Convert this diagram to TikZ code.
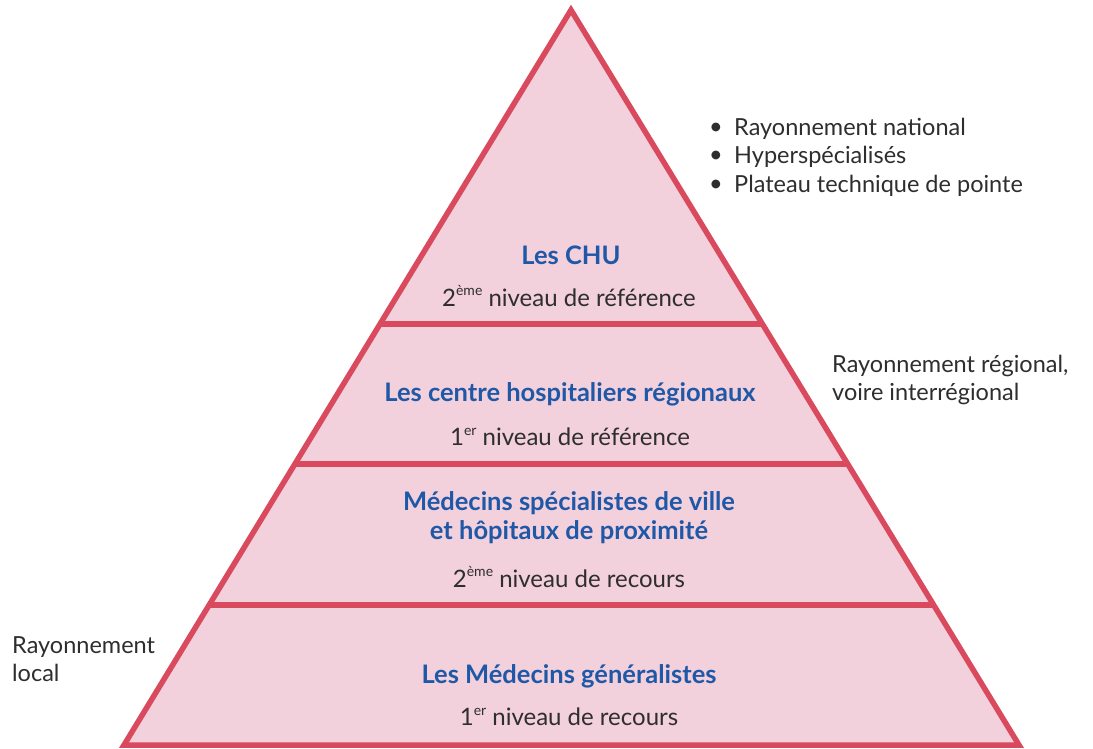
\documentclass[tikz,border=0pt]{standalone}
\usepackage{fontspec}
\setmainfont{Lato}
\usetikzlibrary{calc}
\definecolor{edge}{HTML}{D94A5E}
\definecolor{fillp}{HTML}{F2D0DC}
\definecolor{blueT}{HTML}{1F58A6}
\definecolor{greyT}{HTML}{2E2E2E}
\newcommand{\supx}[1]{\raisebox{0.42em}{\fontsize{14}{14}\selectfont #1}}
\tikzset{
  title/.style={font=\fontsize{25.5}{29}\selectfont\bfseries, text=blueT, align=center, inner sep=0pt},
  sub/.style={font=\fontsize{24}{28}\selectfont, text=greyT, inner sep=0pt},
  side/.style={font=\fontsize{23.5}{28.5}\selectfont, text=greyT, align=left, inner sep=0pt, anchor=west},
  bul/.style={font=\fontsize{23.5}{28.5}\selectfont, text=greyT, inner sep=0pt},
  pline/.style={draw=edge, line width=5.5pt}
}
\begin{document}
\begin{tikzpicture}[x=1pt,y=-1pt]
\useasboundingbox[fill=white] (0,0) rectangle (1093,749);
% pyramid
\coordinate (apex) at (571,10);
\coordinate (bl) at (124,745);
\coordinate (br) at (1019,745);
\fill[fillp] (apex) -- (br) -- (bl) -- cycle;
\coordinate (l1) at ($(apex)!{(324-10)/735}!(bl)$);
\coordinate (r1) at ($(apex)!{(324-10)/735}!(br)$);
\coordinate (l2) at ($(apex)!{(464-10)/735}!(bl)$);
\coordinate (r2) at ($(apex)!{(464-10)/735}!(br)$);
\coordinate (l3) at ($(apex)!{(605-10)/735}!(bl)$);
\coordinate (r3) at ($(apex)!{(605-10)/735}!(br)$);
\draw[pline] (l1) -- (r1);
\draw[pline] (l2) -- (r2);
\draw[pline] (l3) -- (r3);
\draw[pline, line join=miter] (apex) -- (br) -- (bl) -- cycle;
% texts
\node[title] (t1) at (571,255) {Les CHU};
\node[sub] (s1) at (569,296) {2\supx{ème} niveau de référence};
\node[title] (t2) at (570,394) {Les centre hospitaliers régionaux};
\node[sub] (s2) at (570,437) {1\supx{er} niveau de référence};
\node[title] (t3) at (569,518) {Médecins spécialistes de ville\\et hôpitaux de proximité};
\node[sub] (s3) at (569,577) {2\supx{ème} niveau de recours};
\node[title] (t4) at (569,676) {Les Médecins généralistes};
\node[sub] (s4) at (569,717) {1\supx{er} niveau de recours};
% side texts
\node[bul] (d1) at (716,129) {\textbullet};
\node[bul] (d2) at (716,157) {\textbullet};
\node[bul] (d3) at (716,186) {\textbullet};
\node[side] (b1) at (734,129) {Rayonnement national};
\node[side] (b2) at (734,157) {Hyperspécialisés};
\node[side] (b3) at (734,186) {Plateau technique de pointe};
\node[side] (rr) at (832,380) {Rayonnement régional,\\voire interrégional};
\node[side] (rl) at (12,659) {Rayonnement\\local};
\end{tikzpicture}
\end{document}
